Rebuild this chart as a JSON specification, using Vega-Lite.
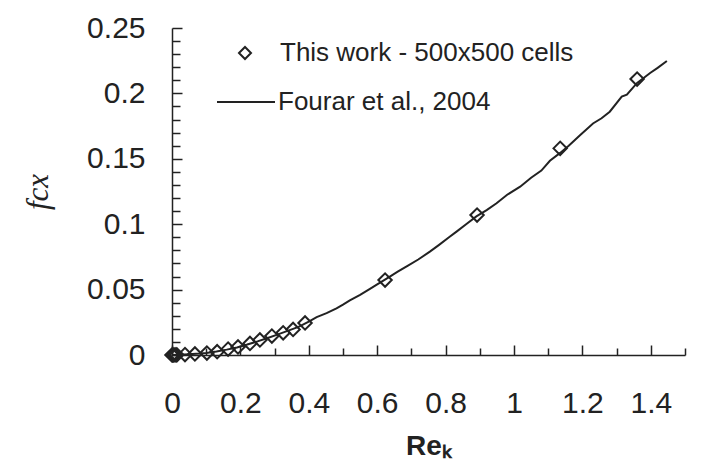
{
  "$schema": "https://vega.github.io/schema/vega-lite/v6.json",
  "width": 513,
  "height": 327,
  "autosize": {"type": "none"},
  "padding": {"left": 172, "top": 28, "right": 19, "bottom": 116},
  "background": "white",
  "config": {
    "view": {"stroke": null},
    "font": "Liberation Sans",
    "axis": {
      "grid": false,
      "domainColor": "#222",
      "domainWidth": 1.5,
      "tickColor": "#222",
      "tickWidth": 1.5,
      "labelColor": "#222",
      "labelFont": "Liberation Sans",
      "labelFontSize": 30,
      "labelOverlap": false,
      "labelFlush": false,
      "labelBound": false,
      "titleColor": "#222"
    },
    "legend": {
      "labelFont": "Liberation Sans",
      "labelFontSize": 26,
      "labelColor": "#222",
      "labelLimit": 0,
      "padding": 0,
      "title": null
    }
  },
  "datasets": {
    "thiswork": [
      {"Re_k": 0.0, "f_cx": 0.0},
      {"Re_k": 0.002, "f_cx": 0.0},
      {"Re_k": 0.005, "f_cx": 0.0},
      {"Re_k": 0.009, "f_cx": 0.0001},
      {"Re_k": 0.014, "f_cx": 0.0001},
      {"Re_k": 0.038, "f_cx": 0.0003},
      {"Re_k": 0.067, "f_cx": 0.0008},
      {"Re_k": 0.102, "f_cx": 0.0015},
      {"Re_k": 0.132, "f_cx": 0.0025},
      {"Re_k": 0.164, "f_cx": 0.0045},
      {"Re_k": 0.193, "f_cx": 0.0062},
      {"Re_k": 0.228, "f_cx": 0.0088},
      {"Re_k": 0.257, "f_cx": 0.0115},
      {"Re_k": 0.292, "f_cx": 0.0145},
      {"Re_k": 0.325, "f_cx": 0.0170},
      {"Re_k": 0.354, "f_cx": 0.0195},
      {"Re_k": 0.389, "f_cx": 0.0245},
      {"Re_k": 0.623, "f_cx": 0.0573},
      {"Re_k": 0.892, "f_cx": 0.107},
      {"Re_k": 1.135, "f_cx": 0.158},
      {"Re_k": 1.36, "f_cx": 0.211}
    ],
    "fourar": [
      {"Re_k": 0.0, "f_cx": 0.0},
      {"Re_k": 0.02, "f_cx": 0.0002},
      {"Re_k": 0.05, "f_cx": 0.0006},
      {"Re_k": 0.08, "f_cx": 0.0011},
      {"Re_k": 0.1, "f_cx": 0.0016},
      {"Re_k": 0.13, "f_cx": 0.0026},
      {"Re_k": 0.16, "f_cx": 0.0041},
      {"Re_k": 0.19, "f_cx": 0.0058},
      {"Re_k": 0.22, "f_cx": 0.008},
      {"Re_k": 0.25, "f_cx": 0.0104},
      {"Re_k": 0.28, "f_cx": 0.013},
      {"Re_k": 0.31, "f_cx": 0.0158},
      {"Re_k": 0.34, "f_cx": 0.0186},
      {"Re_k": 0.37, "f_cx": 0.0215},
      {"Re_k": 0.4, "f_cx": 0.0256},
      {"Re_k": 0.423, "f_cx": 0.029},
      {"Re_k": 0.452, "f_cx": 0.032},
      {"Re_k": 0.481, "f_cx": 0.0357},
      {"Re_k": 0.5, "f_cx": 0.0385},
      {"Re_k": 0.52, "f_cx": 0.0418},
      {"Re_k": 0.55, "f_cx": 0.046},
      {"Re_k": 0.58, "f_cx": 0.0508},
      {"Re_k": 0.6, "f_cx": 0.054},
      {"Re_k": 0.637, "f_cx": 0.0599},
      {"Re_k": 0.66, "f_cx": 0.0637},
      {"Re_k": 0.69, "f_cx": 0.0684},
      {"Re_k": 0.72, "f_cx": 0.073},
      {"Re_k": 0.754, "f_cx": 0.079},
      {"Re_k": 0.78, "f_cx": 0.084},
      {"Re_k": 0.81, "f_cx": 0.09},
      {"Re_k": 0.832, "f_cx": 0.0943},
      {"Re_k": 0.86, "f_cx": 0.1},
      {"Re_k": 0.89, "f_cx": 0.106},
      {"Re_k": 0.92, "f_cx": 0.1108},
      {"Re_k": 0.949, "f_cx": 0.116},
      {"Re_k": 0.98, "f_cx": 0.1225},
      {"Re_k": 1.018, "f_cx": 0.1287},
      {"Re_k": 1.05, "f_cx": 0.1355},
      {"Re_k": 1.08, "f_cx": 0.141},
      {"Re_k": 1.105, "f_cx": 0.1485},
      {"Re_k": 1.135, "f_cx": 0.1545},
      {"Re_k": 1.16, "f_cx": 0.16},
      {"Re_k": 1.193, "f_cx": 0.168},
      {"Re_k": 1.231, "f_cx": 0.177},
      {"Re_k": 1.256, "f_cx": 0.181},
      {"Re_k": 1.28, "f_cx": 0.186},
      {"Re_k": 1.315, "f_cx": 0.1975},
      {"Re_k": 1.33, "f_cx": 0.199},
      {"Re_k": 1.36, "f_cx": 0.208},
      {"Re_k": 1.38, "f_cx": 0.212},
      {"Re_k": 1.398, "f_cx": 0.2156},
      {"Re_k": 1.42, "f_cx": 0.2195},
      {"Re_k": 1.447, "f_cx": 0.2248}
    ]
  },
  "encoding": {
    "x": {
      "field": "Re_k",
      "type": "quantitative",
      "scale": {"domain": [0, 1.5], "nice": false, "zero": false},
      "axis": {
        "values": [0, 0.1, 0.2, 0.3, 0.4, 0.5, 0.6, 0.7, 0.8, 0.9, 1.0, 1.1, 1.2, 1.3, 1.4, 1.5],
        "labelExpr": "round(datum.value*10)%2==0 ? ''+round(datum.value*10)/10 : ''",
        "tickSize": {"condition": {"test": "round(datum.value*10)%2==0", "value": -10}, "value": -7},
        "labelPadding": 43,
        "labelBaseline": "top",
        "title": "Reₖ",
        "titleFont": "Liberation Sans",
        "titleFontSize": 28,
        "titleFontWeight": "bold",
        "titlePadding": 11
      }
    },
    "y": {
      "field": "f_cx",
      "type": "quantitative",
      "scale": {"domain": [0, 0.25], "nice": false},
      "axis": {
        "values": [0, 0.01, 0.02, 0.03, 0.04, 0.05, 0.06, 0.07, 0.08, 0.09, 0.1, 0.11, 0.12, 0.13, 0.14, 0.15, 0.16, 0.17, 0.18, 0.19, 0.2, 0.21, 0.22, 0.23, 0.24, 0.25],
        "labelExpr": "round(datum.value*100)%5==0 ? ''+round(datum.value*100)/100 : ''",
        "tickSize": {"condition": {"test": "round(datum.value*100)%5==0", "value": -10}, "value": -8},
        "labelPadding": 37,
        "title": "fcx",
        "titleFont": "Liberation Serif",
        "titleFontStyle": "italic",
        "titleFontWeight": "normal",
        "titleFontSize": 31,
        "titlePadding": 32
      }
    }
  },
  "layer": [
    {
      "data": {"name": "fourar"},
      "mark": {"type": "line", "strokeWidth": 2},
      "encoding": {
        "color": {
          "datum": "Fourar et al., 2004",
          "scale": {"range": ["#222"]},
          "legend": {
            "orient": "none",
            "legendX": 44,
            "legendY": 44,
            "symbolType": "stroke",
            "symbolSize": 3364,
            "symbolStrokeWidth": 2,
            "symbolStrokeColor": "#222",
            "labelOffset": 2
          }
        }
      }
    },
    {
      "data": {"name": "thiswork"},
      "mark": {"type": "point", "filled": false, "size": 180, "strokeWidth": 2, "color": "#222", "opacity": 1},
      "encoding": {
        "shape": {
          "datum": "This work - 500x500 cells",
          "scale": {"range": ["diamond"]},
          "legend": {
            "orient": "none",
            "legendX": 60,
            "legendY": 12,
            "symbolSize": 144,
            "symbolStrokeWidth": 2,
            "symbolStrokeColor": "#222",
            "symbolFillColor": "transparent",
            "labelOffset": 22
          }
        }
      }
    }
  ]
}
